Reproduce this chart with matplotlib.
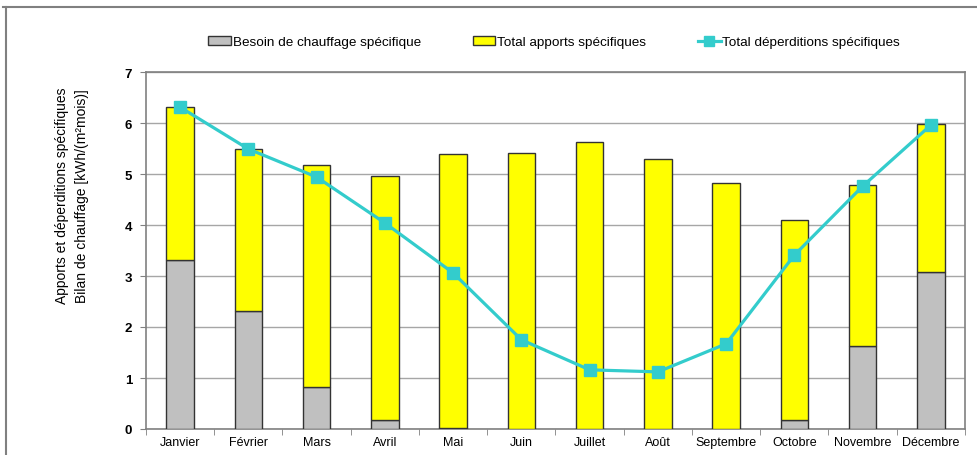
import matplotlib
matplotlib.use("Agg")
import matplotlib.pyplot as plt
from matplotlib.lines import Line2D
from matplotlib.patches import Patch
import numpy as np

months = ["Janvier", "Février", "Mars", "Avril", "Mai", "Juin", "Juillet",
          "Août", "Septembre", "Octobre", "Novembre", "Décembre"]
besoin = [3.31, 2.31, 0.82, 0.18, 0.02, 0.0, 0.0, 0.0, 0.0, 0.18, 1.63, 3.08]
apports = [3.00, 3.18, 4.36, 4.78, 5.37, 5.41, 5.63, 5.29, 4.82, 3.92, 3.15, 2.90]
deperditions = [6.31, 5.49, 4.94, 4.04, 3.06, 1.75, 1.16, 1.12, 1.67, 3.41, 4.76, 5.96]
yticks = [0, 1, 2, 3, 4, 5, 6, 7]

plt.rcParams['font.family'] = ['Liberation Sans', 'DejaVu Sans']

fig = plt.figure(figsize=(9.78, 4.56), dpi=100)
ax = fig.add_axes([146/978, 1-430/456, (965-146)/978, (430-73)/456])

x = np.arange(len(months))
gray = "#C0C0C0"
yellow = "#FFFF00"
cyan = "#33CCCC"
edge = "#333333"
w = 0.4
ax.bar(x, besoin, width=w, color=gray, edgecolor=edge, linewidth=1.0, zorder=3)
ax.bar(x, apports, width=w, bottom=besoin, color=yellow, edgecolor=edge, linewidth=1.0, zorder=3)
ax.plot(x, deperditions, color=cyan, linewidth=2.3, marker='s', markersize=8.5,
        markeredgecolor=cyan, zorder=4)

ax.set_xlim(-0.5, len(months)-0.5)
ax.set_ylim(0, 7)
ax.set_yticks(yticks)
ax.set_yticklabels([str(t) for t in yticks], fontsize=9.5, fontweight='bold')
ax.set_xticks(x)
ax.set_xticklabels(months, fontsize=9)
ax.set_xticks(np.arange(-0.5, len(months), 1), minor=True)
ax.tick_params(axis='x', which='major', length=0, pad=5)
ax.tick_params(axis='x', which='minor', length=4, color="#808080", direction='out')
ax.tick_params(axis='y', length=4, color="#808080", direction='out', pad=6)
ax.yaxis.grid(True, color="#A6A6A6", linewidth=1.0, zorder=0)
ax.set_axisbelow(True)
for s in ax.spines.values():
    s.set_color("#808080")
    s.set_linewidth(1.2)

fig.text(72/978, 1-196/456,
         "Apports et déperditions spécifiques\nBilan de chauffage [kWh/(m²mois)]",
         fontsize=10, rotation=90, ha='center', va='center', linespacing=1.55,
         multialignment='center')

handles = [Patch(facecolor=gray, edgecolor=edge, linewidth=1.0),
           Patch(facecolor=yellow, edgecolor=edge, linewidth=1.0),
           Line2D([0], [0], color=cyan, linewidth=2.3, marker='s', markersize=7,
                  markeredgecolor=cyan)]
labels = ["Besoin de chauffage spécifique", "Total apports spécifiques",
          "Total déperditions spécifiques"]
fig.legend(handles, labels, loc='center', bbox_to_anchor=(554/978, 1-43/456), ncol=3,
           frameon=False, fontsize=9.7, handlelength=1.7, handleheight=0.6,
           handletextpad=0.1, columnspacing=3.85)

# figure border
fig.add_artist(Line2D([3/978, 1], [1-8/456, 1-8/456], color="#808080", linewidth=1.5,
                      transform=fig.transFigure))
fig.add_artist(Line2D([6/978, 6/978], [0, 1-8/456], color="#808080", linewidth=1.5,
                      transform=fig.transFigure))

fig.savefig("out.png", dpi=100)
